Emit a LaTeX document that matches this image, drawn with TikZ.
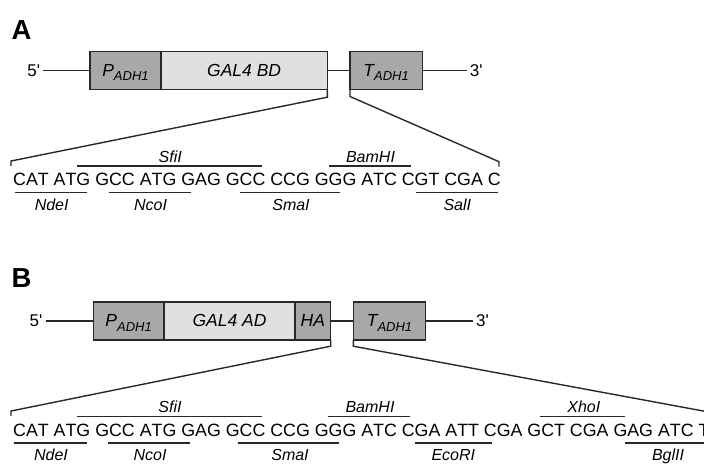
\documentclass[tikz,border=0pt]{standalone}
\usepackage{fontspec}
\setmainfont{Liberation Sans}[Kerning=Off]
\definecolor{edge}{RGB}{40,40,40}
\definecolor{darkfill}{RGB}{168,168,168}
\definecolor{lightfill}{RGB}{224,224,224}
\tikzset{
  seg/.style={draw=edge, line width=1.5pt, inner sep=0pt, outer sep=0pt,
    minimum height=38pt, anchor=west, font=\fontsize{17.5}{18}\selectfont\itshape},
  darkseg/.style={seg, fill=darkfill},
  lightseg/.style={seg, fill=lightfill},
  wire/.style={draw=edge, line width=1.4pt},
  siteline/.style={draw=edge, line width=1.4pt},
  site/.style={font=\fontsize{16}{16}\selectfont\itshape, inner sep=0pt, anchor=base},
  seqtext/.style={font=\fontsize{17.8}{18}\selectfont, inner sep=0pt, anchor=base west},
  endlabel/.style={font=\fontsize{17}{17}\selectfont, inner xsep=3pt, inner ysep=0pt},
  panel/.style={font=\fontsize{27.5}{28}\selectfont\bfseries, inner sep=0pt, anchor=base west}
}
\newcommand{\subadh}{\raisebox{-4.4pt}[0pt][0pt]{\fontsize{13}{13}\selectfont\itshape ADH1}}
\begin{document}
\begin{tikzpicture}[x=1pt,y=-1pt]
\useasboundingbox (0,0) rectangle (704,464);
\clip (0,0) rectangle (704,464);

% ---------------- Panel A ----------------
\node[panel] (labA) at (11.5,39.3) {A};
\node[endlabel, anchor=east] (fiveA) at (43.3,70.5) {5\textquotesingle};
\node[darkseg, minimum width=71pt] (pA) at (90,70.5) {P\subadh};
\node[lightseg, minimum width=166.3pt] (gA) at (pA.east) {GAL4 BD};
\node[darkseg, minimum width=72.3pt] (tA) at (350,70.5) {T\subadh};
\node[endlabel, anchor=west] (threeA) at (466.7,70.5) {3\textquotesingle};
\draw[wire] (fiveA.east) -- (pA.west);
\draw[wire] (gA.east) -- (tA.west);
\draw[wire] (tA.east) -- (threeA.west);

\node[seqtext] (seqA) at (13,185.7) {CAT ATG GCC ATG GAG GCC CCG GGG ATC CGT CGA C};
\coordinate (aL) at (11,161);
\coordinate (aR) at (499,161.7);
\draw[wire] (gA.south east) -- ++(0,7.7) -- (aL) -- ++(0,5);
\draw[wire] (tA.south west) -- ++(0,7) -- (aR) -- ++(0,5);

% sites above
\foreach \xa/\xb/\c/\t in {77/262/170.2/SfiI, 329.3/411/370.5/BamHI}{
  \draw[siteline] (\xa,166) -- (\xb,166);
  \node[site] at (\c,162.3) {\t};
}
% sites below
\foreach \xa/\xb/\c/\t in {15/87.3/51.7/NdeI, 109.3/190.7/150.5/NcoI, 240/340/291/SmaI, 415.7/498.3/457.3/SalI}{
  \draw[siteline] (\xa,192.3) -- (\xb,192.3);
  \node[site] at (\c,210) {\t};
}

% ---------------- Panel B ----------------
\node[panel] (labB) at (11.5,287) {B};
\node[endlabel, anchor=east] (fiveB) at (45.5,320.9) {5\textquotesingle};
\node[darkseg, minimum width=70.7pt] (pB) at (93.3,320.9) {P\subadh};
\node[lightseg, minimum width=131pt] (gB) at (pB.east) {GAL4 AD};
\node[darkseg, minimum width=35.7pt] (haB) at (gB.east) {HA};
\node[darkseg, minimum width=72.4pt] (tB) at (353.3,320.9) {T\subadh};
\node[endlabel, anchor=west] (threeB) at (473,320.9) {3\textquotesingle};
\draw[wire] (fiveB.east) -- (pB.west);
\draw[wire] (haB.east) -- (tB.west);
\draw[wire] (tB.east) -- (threeB.west);

\node[seqtext] (seqB) at (13,436.3) {CAT ATG GCC ATG GAG GCC CCG GGG ATC CGA ATT CGA GCT CGA GAG ATC T};
\coordinate (bL) at (11,411);
\coordinate (bR) at (720,414.1);
\draw[wire] (haB.south east) -- ++(0,6.3) -- (bL) -- ++(0,5);
\draw[wire] (tB.south west) -- ++(0,6.3) -- (bR);

\foreach \xa/\xb/\c/\t in {76.7/261.7/170/SfiI, 328.3/410/370/BamHI, 540/625/583.8/XhoI}{
  \draw[siteline] (\xa,416.3) -- (\xb,416.3);
  \node[site] at (\c,412.8) {\t};
}
\foreach \xa/\xb/\c/\t in {14/86.7/51/NdeI, 108.3/190/150/NcoI, 238.3/339/290/SmaI, 415/491.7/453.3/EcoRI, 625/710/668/BglII}{
  \draw[siteline] (\xa,443) -- (\xb,443);
  \node[site] at (\c,460.3) {\t};
}
\end{tikzpicture}
\end{document}
